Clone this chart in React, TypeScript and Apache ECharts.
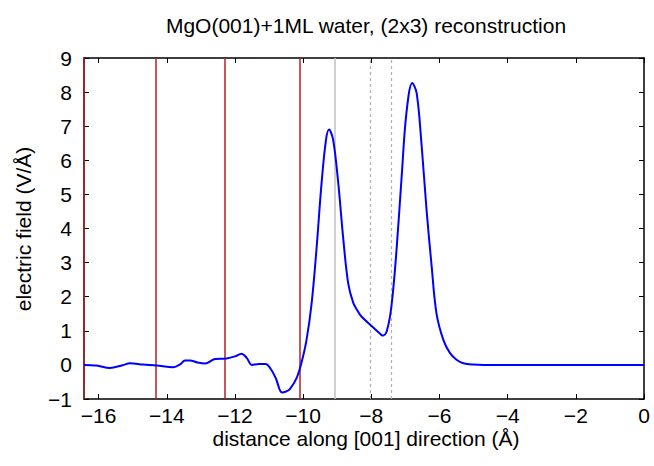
import React, { useEffect, useRef } from "react";
import * as echarts from "echarts";

const xs = [-16.43, -16.06, -15.67, -15.3, -15.08, -14.7, -14.3, -13.81, -13.6, -13.47, -13.32, -13.1, -12.88, -12.59, -12.25, -12.0, -11.81, -11.65, -11.51, -11.3, -11.1, -10.95, -10.8, -10.62, -10.5, -10.39, -10.19, -10.05, -9.9, -9.75, -9.61, -9.46, -9.33, -9.24, -9.12, -8.97, -8.83, -8.68, -8.53, -8.4, -8.29, -8.0, -7.75, -7.67, -7.55, -7.41, -7.26, -7.11, -6.97, -6.8, -6.67, -6.53, -6.38, -6.23, -6.09, -5.89, -5.7, -5.5, -5.3, -5.0, -4.7, -4.0, -2.0, 0];
const ys = [0.0, -0.02, -0.09, -0.01, 0.05, 0.01, -0.02, -0.07, 0.02, 0.13, 0.13, 0.07, 0.04, 0.17, 0.19, 0.25, 0.33, 0.2, 0.0, 0.03, 0.03, -0.12, -0.4, -0.81, -0.78, -0.71, -0.38, 0.06, 0.74, 1.82, 3.38, 5.33, 6.6, 6.9, 6.6, 5.33, 3.77, 2.4, 1.82, 1.58, 1.42, 1.15, 0.92, 0.86, 0.98, 1.72, 3.38, 5.53, 7.39, 8.27, 7.97, 6.51, 4.55, 2.89, 1.52, 0.74, 0.36, 0.15, 0.05, 0.01, 0.0, 0, 0, 0];

const redLines = [-16.43, -14.33, -12.3, -10.1];
const greySolidLines = [-9.07];
const greyDashedLines = [-8.02, -7.43];

const xMin = -16.43;
const xMax = 0;
const yMin = -1;
const yMax = 9;

const titleText = "MgO(001)+1ML water, (2x3) reconstruction";
const xLabel = "distance along [001] direction (Å)";
const yLabel = "electric field (V/Å)";

const FONT = "'Liberation Sans', Arial, Helvetica, sans-serif";
const FS = 21;

export default function App() {
  const ref = useRef<HTMLDivElement>(null);
  useEffect(() => {
    document.body.style.margin = "0";
    if (!ref.current) return;
    const chart = echarts.init(ref.current, null, { renderer: "svg" });
    const fmt = (v: number) => String(v).replace("-", "\u2212");
    const tickStyle = { inside: true, length: 5, lineStyle: { color: "#000", width: 1 } };
    const lineStyleAxis = { color: "#000", width: 1.5 };
    const markData: any[] = [
      ...redLines.map((v) => ({ xAxis: v, lineStyle: { color: "#b22222", width: 1.5, type: "solid" } })),
      ...greySolidLines.map((v) => ({ xAxis: v, lineStyle: { color: "#c0c0c0", width: 1.5, type: "solid" } })),
      ...greyDashedLines.map((v) => ({ xAxis: v, lineStyle: { color: "#b0b0b0", width: 1.2, type: [3, 3] } })),
    ];
    chart.setOption({
      animation: false,
      grid: { left: 84, right: 10, top: 58, bottom: 67, containLabel: false },
      xAxis: [
        {
          type: "value", min: xMin, max: xMax, splitNumber: 8,
          axisLine: { show: true, onZero: false, lineStyle: lineStyleAxis },
          axisTick: tickStyle,
          splitLine: { show: false },
          axisLabel: { showMinLabel: false, color: "#000", fontSize: FS, fontFamily: FONT, margin: 6, formatter: fmt },
        },
        {
          type: "value", min: xMin, max: xMax, splitNumber: 8, position: "top",
          axisLine: { show: true, onZero: false, lineStyle: lineStyleAxis },
          axisTick: tickStyle,
          splitLine: { show: false },
          axisLabel: { show: false },
        },
      ],
      yAxis: [
        {
          type: "value", min: yMin, max: yMax, interval: 1,
          axisLine: { show: true, onZero: false, lineStyle: lineStyleAxis },
          axisTick: tickStyle,
          splitLine: { show: false },
          axisLabel: { color: "#000", fontSize: FS, fontFamily: FONT, margin: 12, formatter: fmt },
        },
        {
          type: "value", min: yMin, max: yMax, interval: 1, position: "right",
          axisLine: { show: true, onZero: false, lineStyle: lineStyleAxis },
          axisTick: tickStyle,
          splitLine: { show: false },
          axisLabel: { show: false },
        },
      ],
      graphic: [
        { type: "text", x: 366, y: 25, style: { text: titleText, fill: "#000", font: `${FS}px ${FONT}`, textAlign: "center", textVerticalAlign: "middle" } },
        { type: "text", x: 366, y: 438, style: { text: xLabel, fill: "#000", font: `${FS}px ${FONT}`, textAlign: "center", textVerticalAlign: "middle" } },
        { type: "text", x: 23, y: 229, rotation: Math.PI / 2, style: { text: yLabel, fill: "#000", font: `${FS}px ${FONT}`, textAlign: "center", textVerticalAlign: "middle" } },
      ],
      series: [
        {
          type: "line",
          xAxisIndex: 0, yAxisIndex: 0,
          data: xs.map((x, i) => [x, ys[i]]),
          smooth: 0.35,
          showSymbol: false,
          symbol: "none",
          lineStyle: { color: "#0000ff", width: 2 },
          z: 3,
          markLine: {
            silent: true,
            symbol: "none",
            label: { show: false },
            data: markData,
            z: 2,
          },
        },
      ],
    });
    return () => chart.dispose();
  }, []);
  return <div ref={ref} style={{ width: 654, height: 466 }} />;
}
